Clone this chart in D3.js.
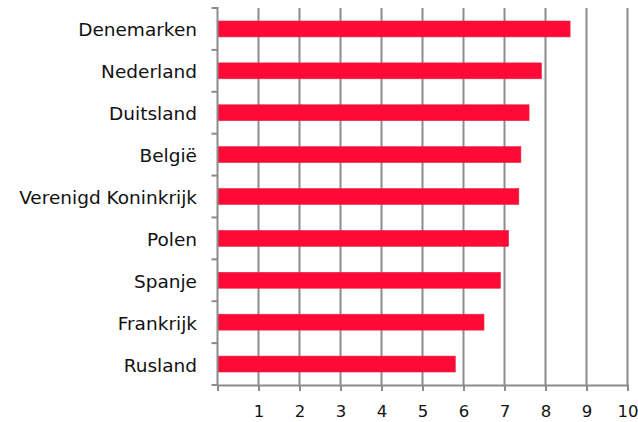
<!DOCTYPE html>
<html>
<head>
<meta charset="utf-8">
<script src="https://cdn.jsdelivr.net/npm/d3@7"></script>
<style>
  body { margin: 0; background: #fff; }
  text { font-family: "DejaVu Sans", sans-serif; fill: #111; }
</style>
</head>
<body>
<svg id="chart" width="638" height="422"></svg>
<script>
var countries = ['Denemarken', 'Nederland', 'Duitsland', 'België', 'Verenigd Koninkrijk',
   'Polen', 'Spanje', 'Frankrijk', 'Rusland'];
var scores = [8.6, 7.9, 7.6, 7.4, 7.35, 7.1, 6.9, 6.5, 5.8];
var ticks = [1, 2, 3, 4, 5, 6, 7, 8, 9, 10];

var svg = d3.select('#chart');
var plotLeft = 217.5, plotRight = 627.5, plotTop = 8, plotBottom = 385;
var grey = '#8c8c8c';

var x = d3.scaleLinear().domain([0, 10]).range([plotLeft, plotRight]);
var y = d3.scaleBand().domain(countries).range([plotTop, plotBottom]).paddingInner(0.62).paddingOuter(0.31);

// gridlines
svg.append('g').selectAll('line')
   .data(ticks)
   .enter()
   .append('line')
   .attr('x1', function(d){ return x(d); })
   .attr('x2', function(d){ return x(d); })
   .attr('y1', plotTop)
   .attr('y2', plotBottom)
   .attr('stroke', grey)
   .attr('stroke-width', 2);

// bars
svg.append('g').selectAll('rect')
   .data(scores)
   .enter()
   .append('rect')
   .attr('x', x(0))
   .attr('y', function(d, i){ return y(countries[i]); })
   .attr('width', function(d){ return x(d) - x(0); })
   .attr('height', y.bandwidth())
   .attr('fill', '#ff0a37')
   .attr('stroke', '#e0284a')
   .attr('stroke-width', 0.6);

// bottom axis
var xAxis = d3.axisBottom(x).tickValues(d3.range(0, 11)).tickSize(6).tickFormat(function(d){
   return d === 0 ? '' : d;
});
var gx = svg.append('g').attr('transform', 'translate(0,' + plotBottom + ')').call(xAxis);
gx.select('.domain').attr('stroke', grey).attr('stroke-width', 2);
gx.selectAll('.tick line').attr('stroke', grey).attr('stroke-width', 2);
gx.selectAll('.tick text').attr('y', 20).attr('dy', '0.71em')
   .style('font-size', '16.5px').style('font-family', '"DejaVu Sans", sans-serif').attr('fill', '#111');

// left axis with ticks at band edges
var edges = d3.range(countries.length + 1).map(function(i){ return plotTop + i * y.step(); });
svg.append('line')
   .attr('x1', plotLeft).attr('x2', plotLeft)
   .attr('y1', plotTop - 1).attr('y2', plotBottom)
   .attr('stroke', grey).attr('stroke-width', 2);
svg.append('g').selectAll('line')
   .data(edges)
   .enter()
   .append('line')
   .attr('x1', plotLeft - 6).attr('x2', plotLeft)
   .attr('y1', function(d){ return d; })
   .attr('y2', function(d){ return d; })
   .attr('stroke', grey)
   .attr('stroke-width', 2);

// category labels
svg.append('g').selectAll('text')
   .data(countries)
   .enter()
   .append('text')
   .attr('x', 197)
   .attr('y', function(d){ return y(d) + y.bandwidth() / 2 + 1; })
   .attr('dy', '0.35em')
   .attr('text-anchor', 'end')
   .style('font-size', '18.5px')
   .text(function(d){ return d; });
</script>
</body>
</html>
